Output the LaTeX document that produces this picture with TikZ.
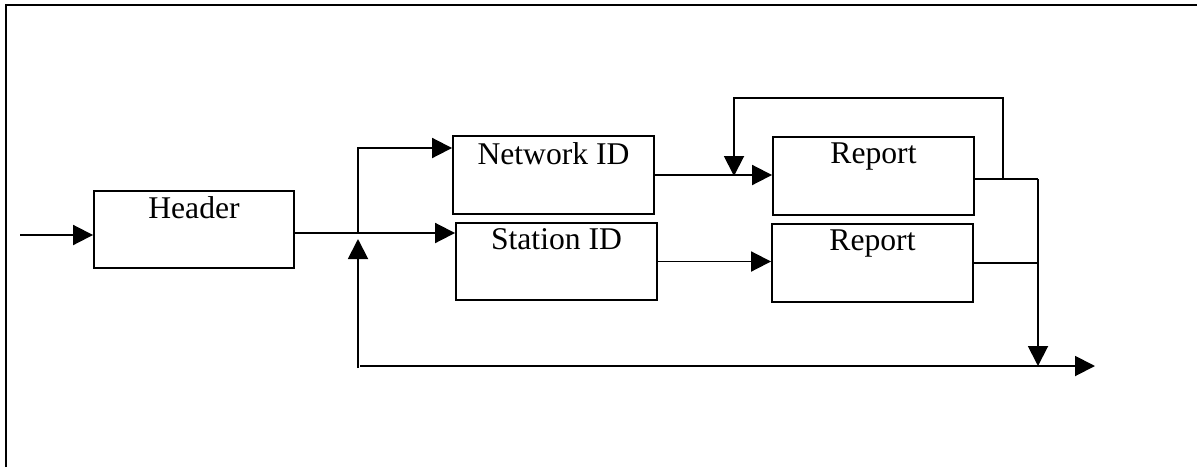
\documentclass[tikz,border=0pt]{standalone}
\usepackage{fontspec}
\setmainfont{Liberation Serif}
\usetikzlibrary{arrows.meta,positioning,calc}

\begin{document}
\begin{tikzpicture}[x=0.02cm,y=-0.02cm,
    line width=1.1pt,
    blockbox/.style={draw,minimum width=4cm,minimum height=1.55cm,inner sep=0pt},
    boxtext/.style={anchor=north,font=\fontsize{18}{22}\selectfont},
    arr/.style={-{Triangle[length=0.4cm,width=0.4cm]}}]
  \useasboundingbox (0,0) rectangle (1197,467);
  % frame
  \draw (6,467) -- (6,5) -- (1197,5);
  % blocks
  \node[blockbox,label={[boxtext]north:Header}] (header) at (194,229.5) {};
  \node[blockbox,minimum width=4.02cm,label={[boxtext]north:Network ID}] (netid) at (553.5,175) {};
  \node[blockbox,minimum width=4.02cm,label={[boxtext]north:Station ID}] (statid) at (556.5,261.5) {};
  \node[blockbox,minimum width=4.02cm,label={[boxtext]north:Report}] (repnet) at (873.5,176) {};
  \node[blockbox,minimum width=4.02cm,label={[boxtext]north:Report}] (repstat) at (872.5,263) {};
  % junction points
  \coordinate (in) at (20,235);
  \coordinate (split) at (358,233);
  \coordinate (upper) at (358,148);
  \coordinate (loopL) at (358,368);
  \coordinate (outR) at (1095,366);
  \coordinate (tap) at (1003,179);
  \coordinate (join) at (1038,179);
  \coordinate (fbtop) at (1003,98);
  \coordinate (fbin) at (734,176);
  % connectors
  \draw[arr] (in) -- (in -| header.west);
  \draw (header.east |- split) -- (split);
  \draw[arr] (split) -- (split -| statid.west);
  \draw[arr] (split) -- (upper) -- (upper -| netid.west);
  \draw[arr] (loopL) -- ($(split)+(0,6)$);
  \draw[arr] ($(loopL)+(2,-2)$) -- (outR);
  \draw[arr] (netid.east) -- (netid.east -| repnet.west);
  \draw[arr] (statid.east) -- (statid.east -| repstat.west);
  \draw (repnet.east |- join) -- (join);
  \draw[arr] (tap) -- (fbtop) -| (fbin);
  \draw (repstat.east) -- (repstat.east -| join);
  \draw[arr] (join) -- (join |- outR);
\end{tikzpicture}
\end{document}
